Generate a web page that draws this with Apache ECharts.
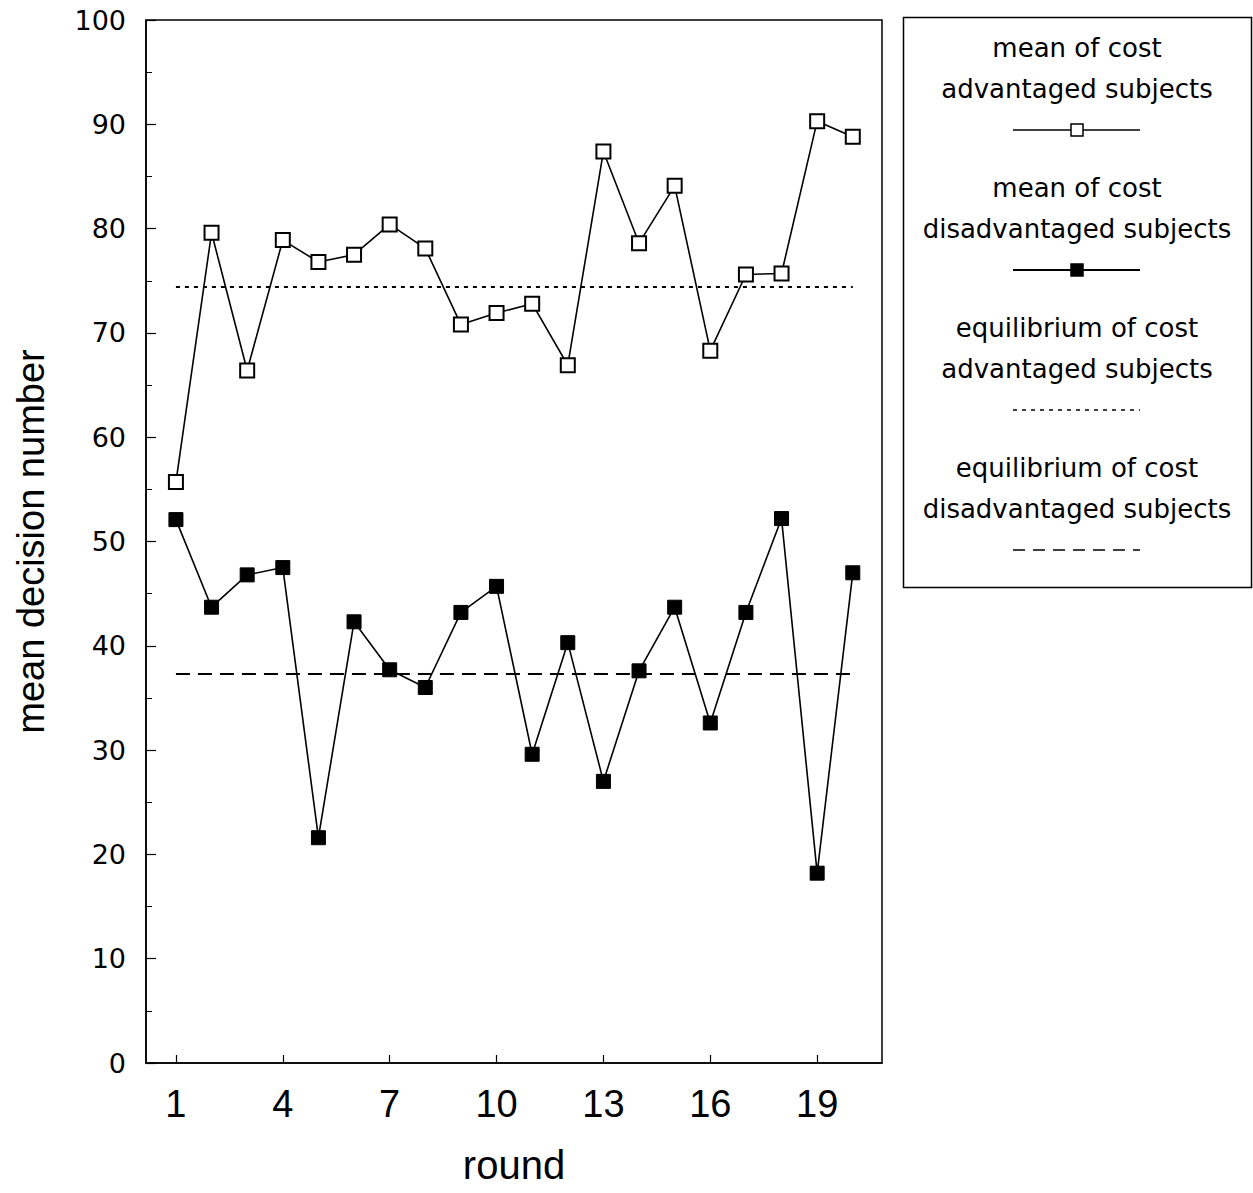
<!DOCTYPE html>
<html>
<head>
<meta charset="utf-8">
<script src="https://cdn.jsdelivr.net/npm/echarts@6/dist/echarts.min.js"></script>
<style>
html,body{margin:0;padding:0;background:#fff;}
#chart{width:1253px;height:1193px;}
</style>
</head>
<body>
<div id="chart"></div>
<script>
const rounds = [1,2,3,4,5,6,7,8,9,10,11,12,13,14,15,16,17,18,19,20];
const advMeans = [55.7,79.6,66.4,78.9,76.8,77.5,80.4,78.1,70.8,71.9,72.8,66.9,87.4,78.6,84.1,68.3,75.6,75.7,90.3,88.8];
const disMeans = [52.1,43.7,46.8,47.5,21.6,42.3,37.7,36.0,43.2,45.7,29.6,40.3,27.0,37.6,43.7,32.6,43.2,52.2,18.2,47.0];
const eqAdv = 74.4;
const eqDis = 37.3;
const xTickValues = [1,4,7,10,13,16,19];
const seriesNames = [
  ['mean of cost', 'advantaged subjects'],
  ['mean of cost', 'disadvantaged subjects'],
  ['equilibrium of cost', 'advantaged subjects'],
  ['equilibrium of cost', 'disadvantaged subjects']
];
const yAxisTitle = 'mean decision number';
const xAxisTitle = 'round';

const chart = echarts.init(document.getElementById('chart'), null, {renderer: 'svg'});

const advData = rounds.map((r, i) => [r, advMeans[i]]);
const disData = rounds.map((r, i) => [r, disMeans[i]]);
const eqAdvData = [[rounds[0], eqAdv], [rounds[rounds.length - 1], eqAdv]];
const eqDisData = [[rounds[0], eqDis], [rounds[rounds.length - 1], eqDis]];

// Legend drawn as graphic
const legendCenterX = 1077;
const legendGraphics = [{
  type: 'rect', shape: {x: 903.5, y: 17.5, width: 348, height: 570},
  style: {fill: '#fff', stroke: '#000', lineWidth: 1.5}
}];
const legendTop = 48;
const blockH = 140;
const styles = ['adv', 'dis', 'eqAdv', 'eqDis'];
seriesNames.forEach((lines, k) => {
  const y0 = legendTop + k * blockH;
  lines.forEach((t, j) => {
    legendGraphics.push({
      type: 'text', x: legendCenterX, y: y0 + j * 41,
      style: {text: t, textAlign: 'center', textVerticalAlign: 'middle',
        font: '26px "DejaVu Sans", sans-serif', fill: '#000'}
    });
  });
  const ys = y0 + 82;
  const st = styles[k];
  let dash = null;
  if (st === 'eqAdv') dash = [4, 5];
  if (st === 'eqDis') dash = [12, 8];
  legendGraphics.push({
    type: 'line', shape: {x1: 1013, y1: ys, x2: 1140, y2: ys},
    style: {stroke: '#000', lineWidth: st === 'dis' ? 2 : 1.5, lineDash: dash}
  });
  if (st === 'adv' || st === 'dis') {
    legendGraphics.push({
      type: 'rect', shape: {x: legendCenterX - 6, y: ys - 6, width: 12, height: 12},
      style: {fill: st === 'adv' ? '#fff' : '#000', stroke: '#000', lineWidth: 1.5}
    });
  }
});

const option = {
  backgroundColor: '#fff',
  animation: false,
  grid: {left: 146, right: 371, top: 20, bottom: 130, show: true,
    outerBoundsMode: 'none', containLabel: false,
    borderColor: '#000', borderWidth: 1.5, backgroundColor: 'transparent'},
  xAxis: {
    type: 'value', min: 0.16, max: 20.82,
    name: xAxisTitle, nameLocation: 'middle', nameGap: 82,
    nameTextStyle: {fontFamily: '"Liberation Sans Narrow", "Liberation Sans", Arial', fontSize: 40, color: '#000'},
    axisLine: {show: true, lineStyle: {color: '#000', width: 1.5}},
    axisTick: {show: true, inside: true, length: 8, customValues: xTickValues, lineStyle: {color: '#000', width: 1.2}},
    axisLabel: {customValues: xTickValues, margin: 22, color: '#000',
      fontFamily: '"Liberation Sans Narrow", "Liberation Sans", Arial', fontSize: 38},
    splitLine: {show: false}
  },
  yAxis: {
    type: 'value', min: 0, max: 100, interval: 10,
    name: yAxisTitle, nameLocation: 'middle', nameGap: 96, nameRotate: 90,
    nameTextStyle: {fontFamily: '"Liberation Sans Narrow", "Liberation Sans", Arial', fontSize: 38, color: '#000'},
    axisLine: {show: true, lineStyle: {color: '#000', width: 1.5}},
    axisTick: {show: true, inside: true, length: 10, lineStyle: {color: '#000', width: 1.2}},
    minorTick: {show: true, splitNumber: 2, length: 6, lineStyle: {color: '#000', width: 1}},
    axisLabel: {margin: 20, color: '#000', fontFamily: '"DejaVu Sans", sans-serif', fontSize: 27},
    splitLine: {show: false}
  },
  series: [
    {name: 'eqAdv', type: 'line', data: eqAdvData, symbol: 'none', z: 1,
      lineStyle: {color: '#000', width: 2, type: [4, 5]}},
    {name: 'eqDis', type: 'line', data: eqDisData, symbol: 'none', z: 1,
      lineStyle: {color: '#000', width: 2, type: [14, 8]}},
    {name: 'adv', type: 'line', data: advData, symbol: 'rect', symbolSize: 14, z: 3,
      lineStyle: {color: '#000', width: 1.6},
      itemStyle: {color: '#fff', borderColor: '#000', borderWidth: 2}},
    {name: 'dis', type: 'line', data: disData, symbol: 'rect', symbolSize: 14, z: 3,
      lineStyle: {color: '#000', width: 1.6},
      itemStyle: {color: '#000', borderColor: '#000', borderWidth: 1}}
  ],
  graphic: legendGraphics
};
chart.setOption(option);
</script>
</body>
</html>
